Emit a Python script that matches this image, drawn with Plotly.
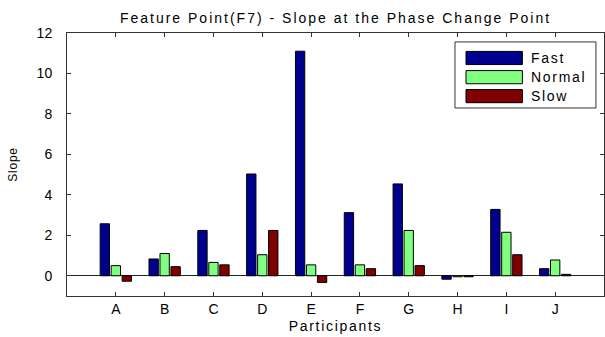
import plotly.graph_objects as go

participants = ["A", "B", "C", "D", "E", "F", "G", "H", "I", "J"]
fast = [2.57, 0.83, 2.24, 5.03, 11.1, 3.12, 4.54, -0.17, 3.28, 0.35]
normal = [0.50, 1.10, 0.66, 1.04, 0.54, 0.54, 2.24, -0.05, 2.15, 0.78]
slow = [-0.27, 0.45, 0.54, 2.24, -0.33, 0.35, 0.50, -0.05, 1.04, 0.07]
series_names = ["Fast", "Normal", "Slow"]
series_colors = ["#00008F", "#80FF80", "#800000"]
yticks = [0, 2, 4, 6, 8, 10, 12]

xpos = list(range(1, len(participants) + 1))
font = "Liberation Sans, Arial, sans-serif"


def sp(t, s=1.7):
    return f"<span style='letter-spacing:{s}px'>{t}</span>"


fig = go.Figure()
for name, vals, col in zip(series_names, [fast, normal, slow], series_colors):
    fig.add_trace(go.Bar(x=xpos, y=vals, name=name, marker=dict(color=col, line=dict(color="black", width=1)),
                         showlegend=False))

fig.update_layout(
    width=605, height=337,
    margin=dict(l=67, r=1, t=33, b=41),
    paper_bgcolor="white", plot_bgcolor="white",
    barmode="group", bargap=0.325, bargroupgap=0.15,
    font=dict(family=font, size=14, color="black"),
    title=dict(text=sp("Feature Point(F7) - Slope at the Phase Change Point", 2.0), xref="paper", x=0.5,
               xanchor="center", y=0.945, yanchor="middle", font=dict(size=14, family=font)),
)
fig.update_xaxes(range=[0, 11], tickvals=xpos, ticktext=[sp(p, 0) for p in participants], ticks="inside",
                 ticklen=4, tickcolor="#333", showline=True, linecolor="#333", linewidth=1, mirror="ticks",
                 showgrid=False, zeroline=False, tickfont=dict(size=14),
                 title=dict(text=sp("Participants"), standoff=5, font=dict(size=14)))
fig.update_yaxes(range=[-1, 12], tickvals=yticks, ticks="inside", ticklen=4, tickcolor="#333",
                 showline=True, linecolor="#333", linewidth=1, mirror="ticks", showgrid=False,
                 zeroline=True, zerolinecolor="#222", zerolinewidth=1, tickfont=dict(size=14),
                 ticklabelstandoff=11,
                 title=dict(text=sp("Slope", 0.8), standoff=16, font=dict(size=12)))

# legend box drawn in paper coordinates
fig.add_shape(type="rect", xref="paper", yref="paper", x0=0.7225, x1=0.985, y0=0.715, y1=0.966,
              line=dict(color="#333", width=1), fillcolor="white")
row_tops = [0.93, 0.857, 0.785]
for name, col, top in zip(series_names, series_colors, row_tops):
    fig.add_shape(type="rect", xref="paper", yref="paper", x0=0.743, x1=0.848, y0=top - 0.05, y1=top,
                  line=dict(color="black", width=1), fillcolor=col)
    fig.add_annotation(text=sp(name), xref="paper", yref="paper", x=0.86, y=top - 0.025, xanchor="left",
                       yanchor="middle", showarrow=False, font=dict(size=14, family=font))

fig.write_html("out.html")
